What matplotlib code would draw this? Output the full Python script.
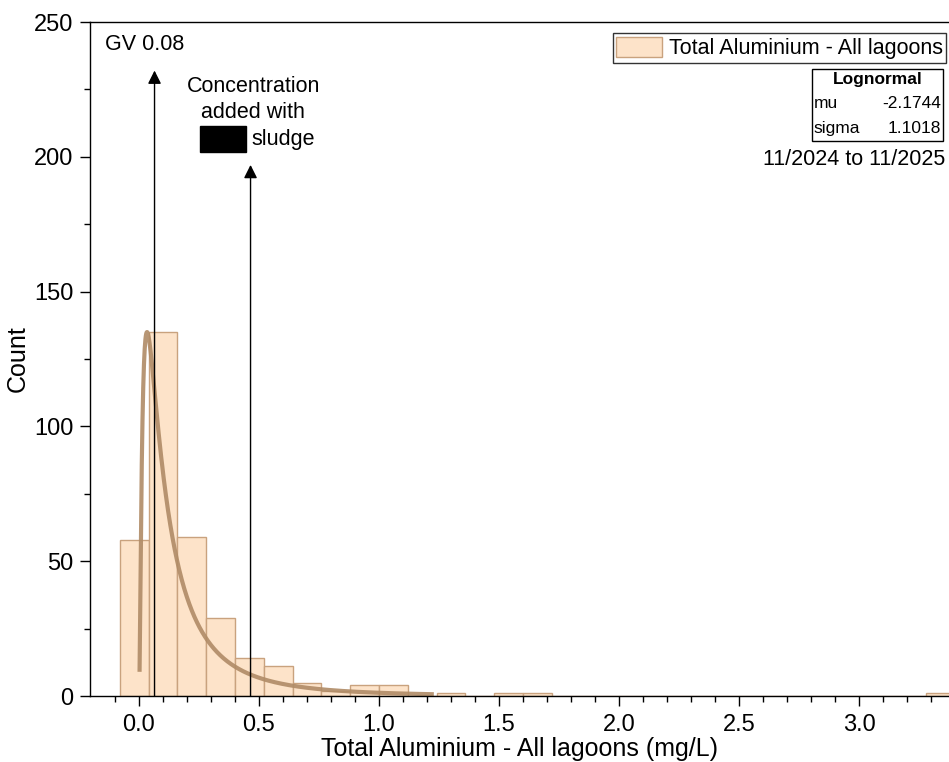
import numpy as np
import matplotlib
matplotlib.use("Agg")
import matplotlib.pyplot as plt
from matplotlib.patches import Rectangle

plt.rcParams['font.family'] = ['Liberation Sans', 'DejaVu Sans']

# histogram bins (mg/L) and counts
bin_start = -0.08
bin_width = 0.12
counts = [58, 135, 59, 29, 14, 11, 5, 2, 4, 4, 0, 1, 0, 1, 1,
          0, 0, 0, 0, 0, 0, 0, 0, 0, 0, 0, 0, 0, 1]

# lognormal fit
mu = -2.1744
sigma = 1.1018
curve_scale = 23.1
curve_x_min = 0.0027
curve_x_max = 1.22

gv_x = 0.065
gv_top = 232
sludge_x = 0.465
sludge_top = 197

bar_face = '#fde3c9'
bar_edge = '#c9a27e'
curve_col = '#b08b66'

edges = bin_start + bin_width * np.arange(len(counts))

fig = plt.figure(figsize=(9.49, 7.62), dpi=100)
ax = fig.add_axes([0.0948, 0.0866, 0.9052, 0.8845])

ax.bar(edges, counts, width=bin_width, align='edge', color=bar_face,
       edgecolor=bar_edge, linewidth=1.0, label='Total Aluminium - All lagoons')

xs = np.linspace(curve_x_min, curve_x_max, 800)
pdf = np.exp(-(np.log(xs) - mu) ** 2 / (2 * sigma ** 2)) / (xs * sigma * np.sqrt(2 * np.pi))
ax.plot(xs, pdf * curve_scale, color=curve_col, lw=3, alpha=0.9)

# arrows
for x, top in [(gv_x, gv_top), (sludge_x, sludge_top)]:
    ax.annotate('', xy=(x, top), xytext=(x, 0),
                arrowprops=dict(arrowstyle='-|>', color='black', lw=1.0,
                                mutation_scale=20, shrinkA=0, shrinkB=0))

fs = 15.5
ax.text(-0.142, 241.5, 'GV 0.08', fontsize=fs, va='center', ha='left')
ax.text(0.477, 226, 'Concentration', fontsize=fs, ha='center', va='center')
ax.text(0.477, 216.4, 'added with', fontsize=fs, ha='center', va='center')
ax.text(0.47, 206.4, 'sludge', fontsize=fs, ha='left', va='center')
ax.add_patch(Rectangle((0.254, 201.7), 0.191, 9.6, color='black', zorder=5))

ax.set_xlim(-0.204, 3.375)
ax.set_ylim(0, 250)
ax.set_xticks(np.arange(0, 3.01, 0.5))
ax.set_xticks(np.arange(-0.1, 3.35, 0.1), minor=True)
ax.set_yticks(np.arange(0, 251, 50))
ax.set_yticks(np.arange(25, 251, 50), minor=True)
ax.xaxis.set_major_formatter(matplotlib.ticker.FormatStrFormatter('%.1f'))
ax.tick_params(which='major', length=7, width=1, labelsize=17, direction='out')
ax.tick_params(which='minor', length=4, width=1, direction='out')
ax.tick_params(axis='x', pad=6)
ax.tick_params(axis='y', pad=5)
ax.spines['right'].set_visible(False)
for s in ['left', 'bottom', 'top']:
    ax.spines[s].set_linewidth(1.0)

ax.set_xlabel('Total Aluminium - All lagoons (mg/L)', fontsize=18, labelpad=1)
ax.set_ylabel('Count', fontsize=18)
ax.yaxis.set_label_coords(-0.07, 0.5)

leg = ax.legend(loc='upper right', bbox_to_anchor=(0.9965, 0.983), fontsize=fs,
                frameon=True, fancybox=False, edgecolor='black', borderpad=0.15,
                handlelength=2.15, handleheight=1.1, handletextpad=0.3,
                borderaxespad=0)
leg.get_frame().set_linewidth(1.0)

# fit parameter table
tx0, tx1 = 0.8405, 0.993
ty0, ty1 = 0.8234, 0.9303
tfs = 12.5
ax.add_patch(Rectangle((tx0, ty0), tx1 - tx0, ty1 - ty0, transform=ax.transAxes,
                       fill=False, edgecolor='black', lw=1.0))
ax.text((tx0 + tx1) / 2, 0.914, 'Lognormal', transform=ax.transAxes, fontsize=tfs,
        fontweight='bold', ha='center', va='center')
ax.text(tx0 + 0.002, 0.8798, 'mu', transform=ax.transAxes, fontsize=tfs, va='center')
ax.text(tx1 - 0.002, 0.8798, f'{mu:.4f}', transform=ax.transAxes, fontsize=tfs,
        va='center', ha='right')
ax.text(tx0 + 0.002, 0.8427, 'sigma', transform=ax.transAxes, fontsize=tfs, va='center')
ax.text(tx1 - 0.002, 0.8427, f'{sigma:.4f}', transform=ax.transAxes, fontsize=tfs,
        va='center', ha='right')
ax.text(0.9953, 0.7953, '11/2024 to 11/2025', transform=ax.transAxes, fontsize=fs,
        ha='right', va='center')

fig.savefig('out.png', dpi=100)
